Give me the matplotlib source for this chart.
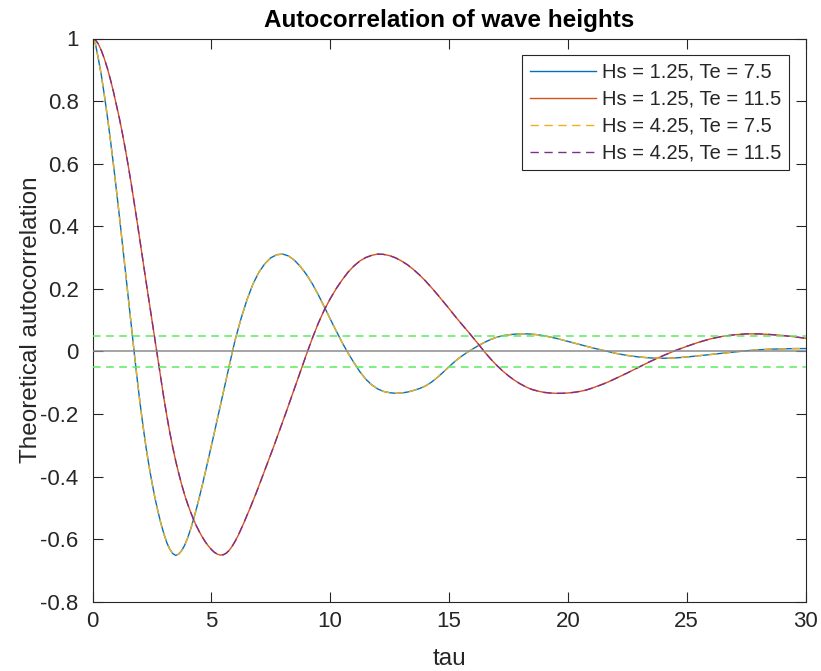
import numpy as np
import matplotlib
matplotlib.use("Agg")
import matplotlib.pyplot as plt

# Lag grids (s): finer where the curves bend sharply
tau_te75 = np.concatenate([np.arange(0.0, 6.0 + 1e-9, 0.125),
                           np.arange(6.25, 20.0 + 1e-9, 0.25),
                           np.arange(20.5, 30.0 + 1e-9, 0.5)])
tau_te115 = np.concatenate([np.arange(0.0, 9.0 + 1e-9, 0.125),
                            np.arange(9.25, 22.0 + 1e-9, 0.25),
                            np.arange(22.5, 30.0 + 1e-9, 0.5)])

# Normalised autocorrelation for energy period Te = 7.5 s
acf_te75 = [
    # 0 .. 6 (step 0.125)
    1.000, 0.982, 0.934, 0.881, 0.818, 0.751, 0.678, 0.601,
    0.520, 0.436, 0.350, 0.263, 0.175, 0.088, 0.000, -0.085,
    -0.165, -0.238, -0.305, -0.365, -0.418, -0.467, -0.510, -0.549,
    -0.582, -0.611, -0.632, -0.646, -0.652, -0.648, -0.637, -0.620,
    -0.597, -0.569, -0.537, -0.502, -0.465, -0.426, -0.385, -0.344,
    -0.302, -0.260, -0.217, -0.175, -0.132, -0.090, -0.047, -0.005,
    0.036,
    # 6.25 .. 20 (step 0.25)
    0.105, 0.165, 0.215, 0.253, 0.280, 0.299, 0.309, 0.311,
    0.305, 0.291, 0.271, 0.246, 0.216, 0.181, 0.143, 0.104,
    0.066, 0.029, -0.005, -0.036, -0.065, -0.089, -0.107, -0.120,
    -0.128, -0.132, -0.134, -0.133, -0.130, -0.125, -0.119, -0.111,
    -0.099, -0.084, -0.067, -0.049, -0.032, -0.017, -0.004, 0.008,
    0.019, 0.029, 0.038, 0.045, 0.050, 0.053, 0.055, 0.056,
    0.056, 0.055, 0.053, 0.050, 0.046, 0.042, 0.037, 0.032,
    # 20.5 .. 30 (step 0.5)
    0.022, 0.012, 0.003, -0.006, -0.013, -0.018, -0.021, -0.022,
    -0.021, -0.018, -0.014, -0.010, -0.006, -0.002, 0.002, 0.005,
    0.007, 0.008, 0.009, 0.009,
]

# Normalised autocorrelation for energy period Te = 11.5 s
acf_te115 = [
    # 0 .. 9 (step 0.125)
    1.000, 0.995, 0.982, 0.961, 0.935, 0.905, 0.870, 0.832,
    0.790, 0.747, 0.700, 0.649, 0.595, 0.538, 0.478, 0.416,
    0.352, 0.289, 0.225, 0.163, 0.100, 0.037, -0.025, -0.087,
    -0.148, -0.205, -0.258, -0.306, -0.350, -0.389, -0.425, -0.458,
    -0.487, -0.513, -0.537, -0.558, -0.577, -0.594, -0.609, -0.622,
    -0.633, -0.642, -0.648, -0.651, -0.650, -0.645, -0.636, -0.623,
    -0.607, -0.589, -0.568, -0.547, -0.524, -0.502, -0.478, -0.455,
    -0.430, -0.405, -0.380, -0.355, -0.330, -0.304, -0.278, -0.252,
    -0.226, -0.199, -0.172, -0.145, -0.118, -0.091, -0.064, -0.037,
    -0.010,
    # 9.25 .. 22 (step 0.25)
    0.042, 0.090, 0.132, 0.168, 0.200, 0.228, 0.253, 0.273,
    0.289, 0.300, 0.307, 0.311, 0.310, 0.306, 0.299, 0.289,
    0.277, 0.262, 0.245, 0.226, 0.205, 0.183, 0.160, 0.137,
    0.113, 0.090, 0.068, 0.045, 0.022, -0.002, -0.024, -0.044,
    -0.062, -0.078, -0.092, -0.104, -0.114, -0.122, -0.127, -0.131,
    -0.133, -0.134, -0.134, -0.133, -0.131, -0.128, -0.124, -0.118,
    -0.111, -0.104, -0.096, -0.087,
    # 22.5 .. 30 (step 0.5)
    -0.069, -0.050, -0.031, -0.014, 0.002, 0.016, 0.029, 0.040,
    0.048, 0.053, 0.056, 0.056, 0.054, 0.051, 0.047, 0.042,
]

series_labels = [
    "Hs = 1.25, Te = 7.5",
    "Hs = 1.25, Te = 11.5",
    "Hs = 4.25, Te = 7.5",
    "Hs = 4.25, Te = 11.5",
]
conf_level = 0.05

x_ticks = [0, 5, 10, 15, 20, 25, 30]
y_ticks = [-0.8, -0.6, -0.4, -0.2, 0, 0.2, 0.4, 0.6, 0.8, 1]
y_tick_labels = ["-0.8", "-0.6", "-0.4", "-0.2", "0", "0.2", "0.4", "0.6", "0.8", "1"]

plt.rcParams["font.family"] = ["Liberation Sans", "DejaVu Sans"]

W, H = 821, 671
fig = plt.figure(figsize=(W / 100, H / 100), dpi=100)
ax = fig.add_axes([92.5 / W, 1 - 601.7 / H, (805.5 - 92.5) / W, (601.7 - 38.5) / H])

dash = (0, (6, 4))
ax.plot(tau_te75, acf_te75, color="#0072BD", lw=1.0, label=series_labels[0])
ax.plot(tau_te115, acf_te115, color="#D95319", lw=1.0, label=series_labels[1])
ax.plot(tau_te75, acf_te75, color="#EDB120", lw=1.0, ls=dash, label=series_labels[2])
ax.plot(tau_te115, acf_te115, color="#7E2F8E", lw=1.0, ls=dash, label=series_labels[3])

ax.axhline(0, color="0.55", lw=1.1, zorder=3)
for lev in (conf_level, -conf_level):
    ax.axhline(lev, color="#5DEB5D", lw=1.1, ls=(0, (5, 3.6)), zorder=3)

ax.set_xlim(0, 30)
ax.set_ylim(-0.8, 1)
ax.set_xticks(x_ticks)
ax.set_xticklabels([str(t) for t in x_ticks])
ax.set_yticks(y_ticks)
ax.set_yticklabels(y_tick_labels)
ax.tick_params(direction="in", length=7, width=0.8, top=True, right=True,
               colors="#262626", labelsize=16)
ax.tick_params(axis="y", pad=10)
ax.tick_params(axis="x", pad=7)
for sp in ax.spines.values():
    sp.set_color("#262626")
    sp.set_linewidth(0.8)

ax.set_title("Autocorrelation of wave heights", fontsize=17.5, fontweight="bold", pad=8)
ax.set_xlabel("tau", fontsize=17.5, color="#262626", labelpad=11)
ax.set_ylabel("Theoretical autocorrelation", fontsize=17.5, color="#262626", labelpad=-1)

leg = ax.legend(loc="upper right", bbox_to_anchor=(0.977, 0.9707), borderaxespad=0,
                fontsize=14.5, handlelength=3.3, handletextpad=0.28, labelspacing=0.4,
                borderpad=0.38, fancybox=False, framealpha=1, edgecolor="#262626")
leg.get_frame().set_linewidth(0.8)
for t in leg.get_texts():
    t.set_color("#262626")

fig.savefig("out.png", dpi=100)
